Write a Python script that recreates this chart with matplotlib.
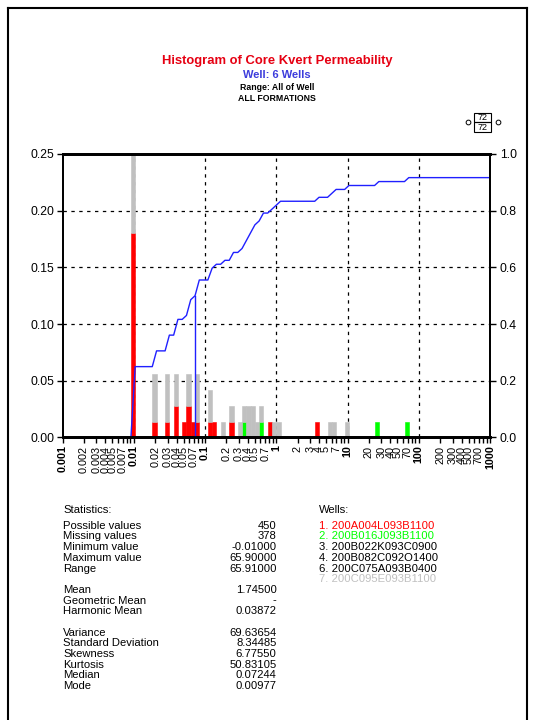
import numpy as np
import matplotlib
matplotlib.use("Agg")
from matplotlib import pyplot as plt
from matplotlib.lines import Line2D
from matplotlib.patches import Rectangle
from matplotlib.ticker import FixedLocator, NullFormatter

plt.rcParams["font.family"] = ["Liberation Sans", "DejaVu Sans"]

# ---------------------------------------------
# Data
# ---------------------------------------------
# 100 log bins between 0.001 and 1000, counts per bin index
n_bins = 100
log_lo, log_hi = -3, 3
total_values = 72
median_value = 0.07244

well1_bins = [16, 21, 24, 26, 28, 29, 30, 31, 34, 35, 39, 48, 59]
well1_counts = [13, 1, 1, 2, 1, 2, 1, 1, 1, 1, 1, 1, 1]
well2_bins = [42, 46, 73, 80]
well2_counts = [1, 1, 1, 1]
well7_bins = [16, 21, 24, 26, 29, 31, 34, 37, 39, 41, 42, 43, 44, 45, 46, 49, 50, 62, 63, 66]
well7_counts = [5, 3, 3, 2, 2, 3, 2, 1, 1, 1, 1, 2, 2, 1, 1, 1, 1, 1, 1, 1]

x_label_mults = [1, 2, 3, 4, 5, 7]
x_minor_mults = [6, 8, 9]
decades = [0.001, 0.01, 0.1, 1, 10, 100, 1000]
left_ticks = [0.0, 0.05, 0.10, 0.15, 0.20, 0.25]
right_ticks = [0.0, 0.2, 0.4, 0.6, 0.8, 1.0]

stat_labels = ["Possible values", "Missing values", "Minimum value", "Maximum value", "Range", "",
               "Mean", "Geometric Mean", "Harmonic Mean", "",
               "Variance", "Standard Deviation", "Skewness", "Kurtosis", "Median", "Mode"]
stat_values = ["450", "378", "-0.01000", "65.90000", "65.91000", "",
               "1.74500", "-", "0.03872", "",
               "69.63654", "8.34485", "6.77550", "50.83105", "0.07244", "0.00977"]

well_names = ["1. 200A004L093B1100", "2. 200B016J093B1100", "3. 200B022K093C0900",
              "4. 200B082C092O1400", "6. 200C075A093B0400", "7. 200C095E093B1100"]
well_colors = ["#ff0000", "#00ff00", "#000000", "#000000", "#000000", "#c0c0c0"]

RED, GREEN, GRAY, BLUE = "#ff0000", "#00ff00", "#c0c0c0", "#2020ff"

W, H = 535, 720


def fx(x):
    return x / W


def fy(y):
    return 1 - y / H


def to_array(bins, counts):
    arr = np.zeros(n_bins)
    arr[bins] = counts
    return arr


edges = np.logspace(log_lo, log_hi, n_bins + 1)
lefts = edges[:-1]
widths = np.diff(edges)

c1 = to_array(well1_bins, well1_counts) / total_values
c2 = to_array(well2_bins, well2_counts) / total_values
c7 = to_array(well7_bins, well7_counts) / total_values

fig = plt.figure(figsize=(W / 100, H / 100), dpi=100)
ax = fig.add_axes([fx(62.5), fy(437.5), fx(490) - fx(62.5), fy(154) - fy(437.5)])
ax.set_xscale("log")
ax.set_xlim(0.001, 1000)
ax.set_ylim(0, 0.25)

# grid
dash = (0, (2.7, 3.6))
for d in decades[1:-1]:
    ax.axvline(d, color="black", lw=0.9, ls=dash, zorder=1)
for t in left_ticks[1:-1]:
    ax.axhline(t, color="black", lw=0.9, ls=dash, zorder=1)

# stacked bars
bar_kw = dict(width=widths, align="edge", lw=0.4, zorder=2)
ax.bar(lefts, c1, color=RED, ec=RED, **bar_kw)
ax.bar(lefts, c2, bottom=c1, color=GREEN, ec=GREEN, **bar_kw)
ax.bar(lefts, c7, bottom=c1 + c2, color=GRAY, ec=GRAY, **bar_kw)
for p in ax.patches:
    if p.get_height() == 0:
        p.set_visible(False)

# cumulative curve on right axis
ax2 = ax.twinx()
ax2.set_ylim(0, 1.0)
cum = np.concatenate([[0], np.cumsum(c1 + c2 + c7)])
first = int(np.nonzero(c1 + c2 + c7)[0][0])
ax2.plot(edges[first:], cum[first:], color=BLUE, lw=1.0)
med_cum = np.interp(np.log10(median_value), np.log10(edges), cum)
ax2.plot([median_value, median_value], [0, med_cum], color=BLUE, lw=1.0)

# x ticks
major = [d * m for d in decades[:-1] for m in x_label_mults] + [1000]
minor = [d * m for d in decades[:-1] for m in x_minor_mults]
ax.xaxis.set_major_locator(FixedLocator(major))
ax.xaxis.set_minor_locator(FixedLocator(minor))
ax.xaxis.set_minor_formatter(NullFormatter())
ax.set_xticklabels(["%g" % v if v < 1 else "%d" % round(v) for v in major],
                   rotation=90, fontsize=7.8)
for lbl, v in zip(ax.get_xticklabels(), major):
    if any(np.isclose(v, d) for d in decades):
        lbl.set_fontweight("bold")
ax.tick_params(axis="x", which="both", direction="out", length=4.3, width=1, pad=1.5)

ax.set_yticks(left_ticks)
ax.set_yticklabels(["%.2f" % t for t in left_ticks], fontsize=8.8)
ax.tick_params(axis="y", direction="out", length=4, width=1, pad=2)
ax2.set_yticks(right_ticks)
ax2.set_yticklabels(["%.1f" % t for t in right_ticks], fontsize=8.8)
ax2.tick_params(axis="y", direction="out", length=4, width=1, pad=3)

for a in (ax, ax2):
    a.spines["top"].set_linewidth(2)
    a.spines["bottom"].set_linewidth(2)
    a.spines["left"].set_linewidth(1.3)
    a.spines["right"].set_linewidth(1.3)

# ---------------------------------------------
# Titles
# ---------------------------------------------
fig.text(fx(277), fy(61), "Histogram of Core Kvert Permeability", color="#e60012",
         fontsize=9.4, fontweight="bold", ha="center", va="center")
fig.text(fx(277), fy(75), "Well: 6 Wells", color="#3c3cdc",
         fontsize=8, fontweight="bold", ha="center", va="center")
fig.text(fx(277), fy(88), "Range: All of Well", color="black",
         fontsize=6.3, fontweight="bold", ha="center", va="center")
fig.text(fx(277), fy(98.5), "ALL FORMATIONS", color="black",
         fontsize=6.3, fontweight="bold", ha="center", va="center")

# scale symbol top right
for y0 in (112.7, 122.2):
    fig.add_artist(Rectangle((fx(473.5), fy(y0 + 9.5)), fx(491) - fx(473.5), fy(y0) - fy(y0 + 9.5),
                             transform=fig.transFigure, fill=False, lw=0.8, ec="black"))
    fig.text(fx(482.2), fy(y0 + 4.9), "72", fontsize=6.5, ha="center", va="center")
for xc in (468.3, 497.7):
    fig.add_artist(Line2D([fx(xc)], [fy(122.2)], marker="o", ms=3.4, mfc="white",
                          mec="black", mew=0.7, transform=fig.transFigure))

# ---------------------------------------------
# Statistics and wells
# ---------------------------------------------
line_h = 10.7
fs = 8.1
fig.text(fx(63), fy(510), "Statistics:", fontsize=fs, va="center")
for i, (lab, val) in enumerate(zip(stat_labels, stat_values)):
    y = 525.7 + i * line_h
    fig.text(fx(63), fy(y), lab, fontsize=fs, va="center")
    fig.text(fx(276.5), fy(y), val, fontsize=fs, va="center", ha="right")

fig.text(fx(319), fy(510), "Wells:", fontsize=fs, va="center")
for i, (name, col) in enumerate(zip(well_names, well_colors)):
    fig.text(fx(319), fy(525.7 + i * line_h), name, fontsize=fs, va="center", color=col)

# page frame
frame = dict(color="black", lw=1.5, transform=fig.transFigure)
fig.add_artist(Line2D([fx(8), fx(527)], [fy(8), fy(8)], **frame))
fig.add_artist(Line2D([fx(8), fx(8)], [fy(8), fy(725)], **frame))
fig.add_artist(Line2D([fx(527), fx(527)], [fy(8), fy(725)], **frame))

fig.savefig("out.png", dpi=100)
